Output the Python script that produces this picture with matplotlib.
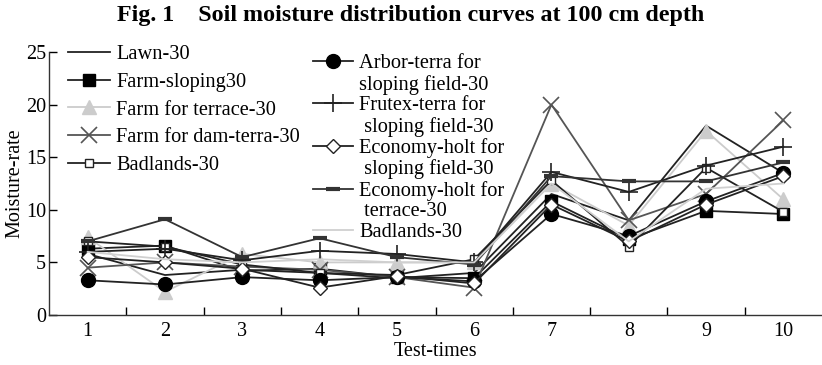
import matplotlib
matplotlib.use("Agg")
import matplotlib.pyplot as plt
from matplotlib.lines import Line2D

plt.rcParams['font.family'] = ['Liberation Serif', 'DejaVu Serif']

times = [1, 2, 3, 4, 5, 6, 7, 8, 9, 10]
lawn = [5.8, 3.8, 4.3, 4.0, 3.5, 4.0, 11.5, 9.0, 18.0, 13.5]
farm_sloping = [6.3, 6.6, 4.2, 4.4, 3.6, 3.5, 10.8, 7.2, 9.9, 9.6]
farm_terrace = [7.4, 2.2, 5.8, 5.0, 5.0, 5.0, 12.5, 8.5, 17.5, 11.0]
farm_dam = [4.5, 5.0, 4.6, 4.3, 3.6, 2.6, 20.0, 9.0, 11.5, 18.5]
badlands_a = [7.0, 6.5, 4.8, 4.0, 3.8, 5.3, 12.8, 6.5, 14.0, 9.8]
arbor = [3.3, 2.9, 3.6, 3.3, 3.6, 3.2, 9.6, 7.5, 10.8, 13.5]
frutex = [6.0, 6.3, 5.2, 6.1, 5.8, 5.0, 13.6, 11.7, 14.2, 16.0]
eco_sloping = [5.5, 5.0, 4.4, 2.6, 3.7, 3.0, 10.5, 7.0, 10.5, 13.2]
eco_terrace = [7.0, 9.1, 5.5, 7.3, 5.5, 4.8, 13.2, 12.7, 12.7, 14.5]
badlands_b = [6.0, 5.3, 5.0, 5.3, 5.0, 5.0, 12.5, 7.0, 12.0, 12.5]

fig = plt.figure(figsize=(8.22, 3.65), dpi=100)
ax = fig.add_axes([49/822, 1-315/365, 773/822, 263/365])

dark = '#222222'
kw = dict(lw=1.3)
l_lawn, = ax.plot(times, lawn, color=dark, **kw)
l_fs, = ax.plot(times, farm_sloping, color=dark, marker='s', ms=9, mfc='black', mec='black', **kw)
l_ft, = ax.plot(times, farm_terrace, color='#cccccc', marker='^', ms=10, mfc='#cccccc', mec='#cccccc', **kw)
l_fd, = ax.plot(times, farm_dam, color='#555555', marker='x', ms=11, mew=1.2, **kw)
l_ba, = ax.plot(times, badlands_a, color=dark, marker='s', ms=6, mfc='white', mec=dark, mew=1.0, **kw)
l_ar, = ax.plot(times, arbor, color=dark, marker='o', ms=10, mfc='black', mec='black', **kw)
l_fr, = ax.plot(times, frutex, color=dark, marker='+', ms=13, mew=1.2, **kw)
l_es, = ax.plot(times, eco_sloping, color=dark, marker='D', ms=7, mfc='white', mec=dark, mew=1.0, **kw)
l_et, = ax.plot(times, eco_terrace, color='#333333', marker='_', ms=10, mew=3, **kw)
l_bb, = ax.plot(times, badlands_b, color='#d0d0d0', **kw)

ax.set_xlim(0.5, 10.5)
ax.set_ylim(0, 25)
ax.set_xticks(times)
ax.set_xticks([t + 0.5 for t in times[:-1]], minor=True)
ax.tick_params(axis='x', which='major', length=0, labelsize=14.5, pad=5)
ax.tick_params(axis='x', which='minor', direction='in', length=6, width=1)
ax.set_yticks([0, 5, 10, 15, 20, 25])
ax.tick_params(axis='y', direction='in', length=6, width=1, labelsize=14.5, pad=2)
for s in ['top', 'right']:
    ax.spines[s].set_visible(False)
for s in ['left', 'bottom']:
    ax.spines[s].set_linewidth(1.0)
    ax.spines[s].set_color('#333333')

ax.set_xlabel('Test-times', fontsize=14.5, labelpad=1)
ax.set_ylabel('Moisture-rate', fontsize=14.5, labelpad=1)

fig.suptitle('Fig. 1    Soil moisture distribution curves at 100 cm depth',
             fontsize=17.3, fontweight='bold', x=0.5, y=0.987, va='top')

fs = 14.7
blank = Line2D([], [], color='none')
leg1 = ax.legend([l_lawn, l_fs, l_ft, l_fd, l_ba],
                 ['Lawn-30', 'Farm-sloping30', 'Farm for terrace-30', 'Farm for dam-terra-30', 'Badlands-30'],
                 loc='upper left', bbox_to_anchor=(68/822, 1-45/365), bbox_transform=fig.transFigure,
                 frameon=False, fontsize=fs, handlelength=2.05, handletextpad=0.3,
                 labelspacing=0.41, borderpad=0, borderaxespad=0)
ax.add_artist(leg1)
ax.legend([l_ar, blank, l_fr, blank, l_es, blank, l_et, blank, l_bb],
          ['Arbor-terra for', 'sloping field-30', 'Frutex-terra for', ' sloping field-30',
           'Economy-holt for', ' sloping field-30', 'Economy-holt for', ' terrace-30', 'Badlands-30'],
          loc='upper left', bbox_to_anchor=(313/822, 1-54/365), bbox_transform=fig.transFigure,
          frameon=False, fontsize=fs, handlelength=1.96, handletextpad=0.3,
          labelspacing=0.07, borderpad=0, borderaxespad=0)

fig.savefig('out.png', dpi=100)
